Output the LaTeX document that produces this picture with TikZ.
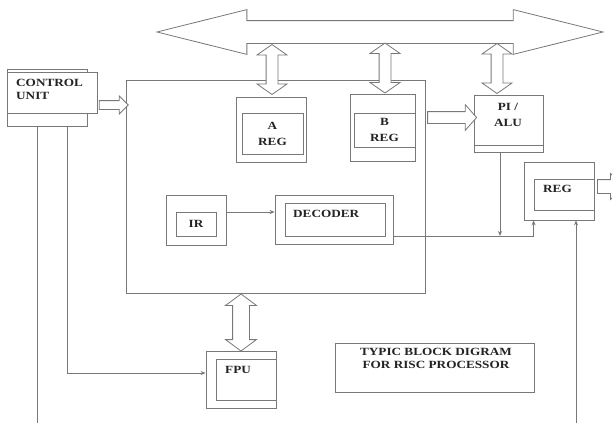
\documentclass[tikz,border=0pt]{standalone}
\usepackage{fontspec}
\setmainfont{Liberation Serif}[FakeStretch=1.2]
\usetikzlibrary{shapes.arrows, arrows.meta, calc}
\definecolor{risclines}{RGB}{120, 120, 120}
\definecolor{riscink}{RGB}{35, 35, 35}
\tikzset{
  box/.style 2 args={rectangle, draw=risclines, line width=0.8pt, fill=white,
                     inner sep=0pt, minimum width=#1, minimum height=#2},
  tag/.style={font=\bfseries\fontsize{11}{13}\selectfont, text=riscink,
              inner sep=0pt, align=center},
  wire/.style={draw=risclines, line width=0.8pt},
  arrow/.style={-{Stealth[length=5pt, width=4pt]}, draw=risclines, line width=0.8pt},
  hbus/.style={double arrow, draw=risclines, line width=0.8pt, fill=white,
               inner xsep=0pt, inner ysep=11pt, minimum height=446pt,
               double arrow head extend=11pt, double arrow tip angle=28},
  vbus/.style={double arrow, draw=risclines, line width=0.8pt, fill=white,
               inner xsep=0pt, inner ysep=5.5pt, rotate=90, minimum height=#1,
               double arrow head extend=9pt, double arrow tip angle=110},
  fat/.style={single arrow, draw=risclines, line width=0.8pt, fill=white,
              inner xsep=0pt, minimum height=#1, single arrow tip angle=90},
}

\begin{document}
\begin{tikzpicture}[x=1pt, y=-1pt]
  \clip (0,0) rectangle (612,423);

  % system bus
  \node[hbus] (sysbus) at (380,32) {};

  % processor core
  \node[box={299pt}{213pt}] (core) at (275.5,186.5) {};

  % control unit
  \node[box={80pt}{57pt}] (cuback) at (47,97.5) {};
  \node[box={90pt}{41pt}] (cu) at (52,92.5) {};
  \node[tag, align=left, anchor=west] (cut) at (16,89) {CONTROL\\UNIT};
  \node[fat=29pt, inner ysep=4pt, single arrow head extend=4.5pt] (cuarr) at (111.5,105) {};

  % registers
  \node[box={70pt}{65pt}] (areg) at (271,129.5) {};
  \node[box={61pt}{41pt}, tag] (aregin) at (272.5,133.5) {A\\[3pt]REG};
  \node[box={65pt}{67pt}] (breg) at (382.5,127.5) {};
  \node[box={61pt}{34pt}, tag] (bregin) at (384.5,130) {B\\[3pt]REG};

  % PI / ALU
  \node[box={69pt}{57pt}] (alu) at (508.5,123.5) {};
  \draw[wire] ([yshift=7pt]alu.south west) -- ([yshift=7pt]alu.south east);
  \node[tag] (alut) at (508,115) {PI /\\[3pt]ALU};
  \node[fat=49pt, inner ysep=5.5pt, single arrow head extend=7pt,
        single arrow tip angle=97] (aluarr) at (449.5,117.5) {};

  % bus taps
  \node[vbus=50pt] (busa) at (272,69.5) {};
  \node[vbus=50pt] (busb) at (385,68) {};
  \node[vbus=50pt] (busc) at (497,68.5) {};

  % output register
  \node[box={70pt}{58pt}] (reg) at (559,191) {};
  \node[box={60pt}{31pt}] (regin) at (564,194.5) {};
  \node[tag, anchor=west] (regt) at (543,189) {REG};
  \node[fat=26pt, inner ysep=6.5pt, single arrow head extend=6pt] (regarr) at (607,186.5) {};

  % IR and decoder
  \node[box={60pt}{50pt}] (ir) at (196,220) {};
  \node[box={40pt}{24pt}, tag] (irin) at (196,224) {IR};
  \node[box={118pt}{49pt}] (dec) at (334,219.5) {};
  \node[box={100pt}{33pt}] (decin) at (335,219.5) {};
  \node[tag, anchor=west] (dect) at (293,214) {DECODER};
  \draw[arrow] ([yshift=8pt]ir.east) -- ([yshift=8pt]ir.east -| dec.west);

  % FPU
  \node[box={70pt}{57pt}] (fpu) at (241,379.5) {};
  \node[box={60pt}{41pt}] (fpuin) at (246,379.5) {};
  \node[tag, anchor=west] (fput) at (225,370) {FPU};
  \node[vbus=57pt, inner ysep=8pt, double arrow head extend=7pt,
        double arrow tip angle=107] (busf) at (241,322.5) {};

  % wiring
  \coordinate (tap) at (500,236);
  \coordinate (clkin) at (576,423);
  \coordinate (cuout) at (37,423);
  \draw[arrow] (alu.south -| tap) -- (tap);
  \draw[arrow] ([yshift=-16.5pt]dec.east) -| (reg.south -| regin.west);
  \draw[arrow] (clkin) -- (clkin |- reg.south);
  \draw[wire] (cuout |- cuback.south) -- (cuout);
  \draw[arrow] ([xshift=20pt]cuback.south) |- ([yshift=6.5pt]fpu.west);

  % caption
  \node[box={199pt}{49pt}] (title) at (434.5,367.5) {};
  \node[tag] (titlet) at (436,358.5) {TYPIC BLOCK DIGRAM\\FOR RISC PROCESSOR};
\end{tikzpicture}
\end{document}
